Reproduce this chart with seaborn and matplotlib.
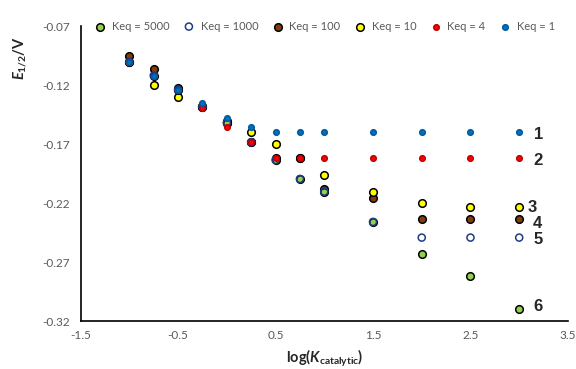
import matplotlib.pyplot as plt
import numpy as np
import pandas as pd
import seaborn as sns

# data
x = [-1, -0.75, -0.5, -0.25, 0, 0.25, 0.5, 0.75, 1, 1.5, 2, 2.5, 3]
keq_5000 = [-0.1005, -0.112, -0.124, -0.1384, -0.152, -0.1685, -0.1835, -0.1996, -0.2103, -0.236, -0.2634, -0.2818, -0.3094]
keq_1000 = [-0.1005, -0.112, -0.124, -0.1384, -0.152, -0.1685, -0.1835, -0.1996, -0.2103, -0.236, -0.2493, -0.2493, -0.2493]
keq_100 = [-0.0954, -0.1062, -0.1223, -0.1384, -0.152, -0.1685, -0.182, -0.182, -0.208, -0.216, -0.2337, -0.2337, -0.2337]
keq_10 = [-0.1005, -0.120, -0.1299, -0.138, -0.1505, -0.160, -0.170, -0.182, -0.1962, -0.2103, -0.2197, -0.2236, -0.2236]
keq_4 = [-0.1005, -0.112, -0.124, -0.1397, -0.1553, -0.1685, -0.182, -0.182, -0.182, -0.182, -0.182, -0.182, -0.182]
keq_1 = [-0.1005, -0.112, -0.124, -0.1355, -0.148, -0.1553, -0.1595, -0.1595, -0.1595, -0.1595, -0.1595, -0.1595, -0.1595]

series = [keq_5000, keq_1000, keq_100, keq_10, keq_4, keq_1]
labels = ['Keq = 5000', 'Keq = 1000', 'Keq = 100', 'Keq = 10', 'Keq = 4', 'Keq = 1']
faces = ['#92d050', 'none', '#843c0c', '#ffff00', '#ff0000', '#0070c0']
edges = ['black', '#1f3c88', 'black', 'black', '#c00000', '#005a9e']
sizes = [30, 26, 30, 30, 16, 16]
zord = [4, 5, 2, 3, 6, 7]

curve_names = ['1', '2', '3', '4', '5', '6']
curve_x = [3.15, 3.15, 3.09, 3.14, 3.15, 3.15]
curve_y = [-0.1623, -0.1841, -0.2236, -0.2371, -0.2507, -0.3077]

sns.set_style('white')
plt.rcParams['font.family'] = ['Lato', 'DejaVu Sans']
plt.rcParams['mathtext.fontset'] = 'custom'
plt.rcParams['mathtext.it'] = 'Lato:italic:bold'
plt.rcParams['mathtext.rm'] = 'Lato:bold'

fig = plt.figure(figsize=(5.76, 3.69), dpi=100)
ax = fig.add_axes([0.140, 0.130, 0.846, 0.7995])

for vals, lab, fc, ec, s, z in zip(series, labels, faces, edges, sizes, zord):
    sns.scatterplot(x=x, y=vals, ax=ax, label=lab, s=s, facecolor=fc,
                    edgecolor=ec, linewidth=1.1, zorder=z)

for name, tx, ty in zip(curve_names, curve_x, curve_y):
    ax.text(tx, ty, name, fontsize=12, fontweight='bold', family='Liberation Sans',
            va='center', ha='left')

ax.set_xlim(-1.5, 3.5)
ax.set_ylim(-0.32, -0.07)
ax.set_xticks([-1.5, -0.5, 0.5, 1.5, 2.5, 3.5])
ax.set_yticks([-0.32, -0.27, -0.22, -0.17, -0.12, -0.07])
ax.set_yticklabels(['-0.32', '-0.27', '-0.22', '-0.17', '-0.12', '-0.07'])
ax.set_xticklabels(['-1.5', '-0.5', '0.5', '1.5', '2.5', '3.5'])
ax.tick_params(axis='both', colors='black', labelcolor='#595959', labelsize=8.5,
               direction='inout', length=6, width=1)
ax.tick_params(axis='y', direction='out', length=4)
for side in ['top', 'right']:
    ax.spines[side].set_visible(False)
for side in ['left', 'bottom']:
    ax.spines[side].set_color('black')
    ax.spines[side].set_linewidth(1.2)

ax.set_xlabel(r'log($K_{\rm catalytic}$)', fontsize=10.5, fontweight='bold', labelpad=5)
ax.set_ylabel(r'$E_{1/2}$/V', fontsize=10.5, fontweight='bold', labelpad=4)
ax.yaxis.set_label_coords(-0.105, 0.89)

leg = ax.legend(loc='center', bbox_to_anchor=(0.495, 1.0), ncol=6, frameon=False,
                fontsize=8, handletextpad=0.05, columnspacing=0.75, borderaxespad=0)
for t in leg.get_texts():
    t.set_color('#595959')

plt.savefig('out.png', dpi=100)
